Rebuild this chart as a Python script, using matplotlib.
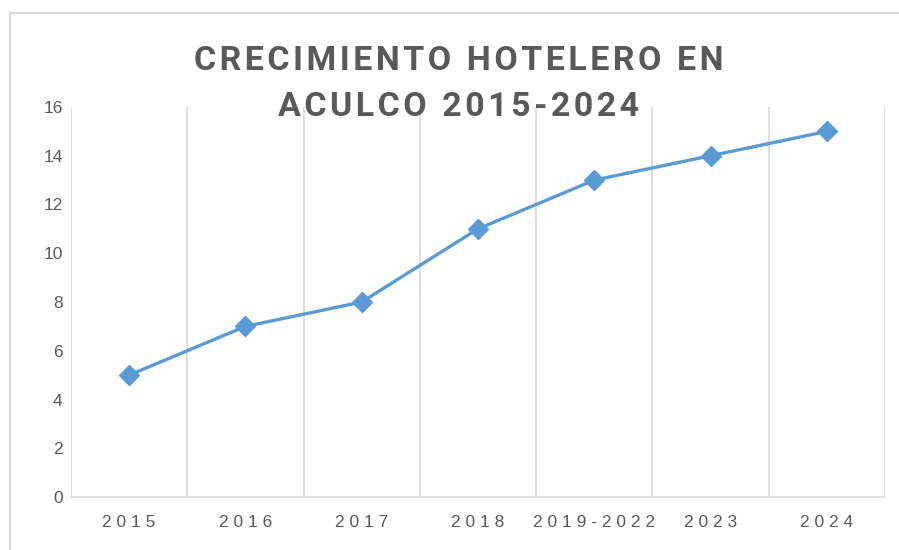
import matplotlib

matplotlib.use("Agg")
import matplotlib.pyplot as plt  # noqa: E402
from matplotlib.patches import Rectangle  # noqa: E402

categories = ["2015", "2016", "2017", "2018", "2019-2022", "2023", "2024"]
hotels = [5, 7, 8, 11, 13, 14, 15]
y_ticks = [0, 2, 4, 6, 8, 10, 12, 14, 16]

title_lines = ["CRECIMIENTO HOTELERO EN", "ACULCO 2015-2024"]
grey_text = "#595959"
grid_col = "#D9D9D9"
line_col = "#5B9BD5"


def spaced(s, sep="\u200a"):
    # Excel-style letter spacing
    return sep.join(s)


fig = plt.figure(figsize=(8.99, 5.5), dpi=100)
ax = fig.add_axes([71 / 899, 1 - 497 / 550, (885 - 71) / 899, (497 - 107) / 550])

x = range(len(categories))
ax.plot(x, hotels, color=line_col, linewidth=2.4, marker="D", markersize=10.5,
        markerfacecolor=line_col, markeredgecolor=line_col, zorder=3)

ax.set_xlim(-0.5, len(categories) - 0.5)
ax.set_ylim(0, 16)
ax.set_yticks(y_ticks)
ax.set_yticklabels([str(t) for t in y_ticks], fontsize=12.5, color=grey_text,
                   family="Liberation Sans")
ax.set_xticks(list(x))
ax.set_xticklabels([" ".join(c) for c in categories], fontsize=12.5, color=grey_text,
                   family="Liberation Sans")
ax.tick_params(length=0, axis="y", pad=6)
ax.tick_params(length=0, axis="x", pad=13)

# vertical gridlines on category boundaries
for b in range(len(categories) + 1):
    ax.axvline(b - 0.5, color=grid_col, linewidth=1.2, zorder=1)
for side in ["top", "right", "left"]:
    ax.spines[side].set_visible(False)
ax.spines["bottom"].set_color(grid_col)
ax.spines["bottom"].set_linewidth(1.2)

fig.text(459 / 899, 1 - 84 / 550, "\n".join(spaced(t) for t in title_lines),
         ha="center", va="center", fontsize=24.5, fontweight="bold", color=grey_text,
         linespacing=1.6, family=["Roboto", "DejaVu Sans"])

# chart border
fig.add_artist(Rectangle((10 / 899, -0.1), 1.0, 1.1 - 13 / 550, transform=fig.transFigure,
                         fill=False, edgecolor=grid_col, linewidth=1.5))

fig.savefig("out.png", dpi=100)
plt.close(fig)
